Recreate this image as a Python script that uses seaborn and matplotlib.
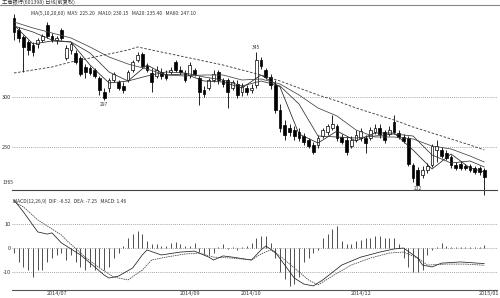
import numpy as np
import pandas as pd
import matplotlib
matplotlib.use("Agg")
import matplotlib.pyplot as plt
from matplotlib.lines import Line2D
import seaborn as sns

sns.set_style("white")
plt.rcParams['font.family'] = ['Noto Sans CJK SC', 'DejaVu Sans']

# ---------------- data ----------------
open_ = [379, 367, 360, 355, 352, 353, 357, 372, 361, 357,
         367, 339, 347, 344, 339, 330, 329, 327, 319, 305,
         309, 317, 315, 311, 317, 327, 337, 343, 331, 324,
         321, 325, 323, 325, 335, 327, 324, 322, 327, 319,
         307, 309, 317, 325, 317, 317, 309, 313, 305, 309,
         307, 312, 337, 327, 320, 312, 287, 272, 269, 267,
         265, 261, 257, 252, 252, 261, 265, 269, 271, 260,
         257, 251, 257, 259, 259, 259, 265, 269, 265, 263,
         275, 264, 260, 259, 232, 227, 222, 227, 232, 247,
         247, 244, 240, 232, 233, 231, 231, 229, 229, 227]
close = [365, 359, 350, 347, 345, 357, 361, 361, 357, 359,
         359, 349, 353, 335, 323, 325, 324, 321, 307, 299,
         317, 323, 309, 307, 325, 335, 342, 331, 327, 315,
         327, 321, 319, 327, 327, 325, 317, 332, 323, 305,
         303, 317, 323, 317, 313, 305, 315, 302, 311, 305,
         309, 337, 331, 320, 312, 287, 269, 262, 265, 261,
         259, 255, 251, 245, 259, 267, 271, 273, 259, 255,
         245, 257, 262, 266, 254, 267, 269, 263, 257, 267,
         265, 260, 256, 233, 219, 212, 227, 231, 251, 251,
         241, 239, 232, 229, 229, 229, 227, 225, 225, 220]
high = [383, 370, 362, 357, 355, 359, 363, 375, 364, 361,
        369, 352, 355, 347, 341, 333, 331, 329, 321, 309,
        319, 325, 317, 315, 327, 337, 345, 345, 334, 329,
        331, 329, 327, 330, 337, 331, 327, 335, 329, 321,
        311, 319, 327, 327, 319, 319, 317, 317, 314, 312,
        313, 345, 340, 329, 323, 317, 293, 277, 273, 271,
        269, 264, 259, 255, 262, 269, 273, 282, 273, 263,
        261, 261, 267, 269, 262, 270, 273, 273, 267, 271,
        282, 267, 263, 261, 234, 230, 231, 234, 253, 257,
        250, 247, 242, 235, 236, 233, 233, 231, 231, 229]
low = [357, 355, 325, 342, 341, 349, 355, 359, 355, 353,
       357, 337, 343, 333, 321, 319, 322, 319, 302, 297,
       305, 315, 307, 304, 315, 325, 335, 329, 325, 305,
       319, 318, 317, 323, 325, 323, 315, 319, 321, 292,
       300, 307, 315, 313, 310, 289, 307, 299, 301, 302,
       304, 309, 328, 318, 308, 284, 265, 257, 261, 257,
       256, 252, 249, 243, 249, 259, 262, 267, 256, 253,
       242, 249, 255, 256, 244, 257, 263, 259, 254, 261,
       263, 258, 254, 231, 215, 212, 219, 224, 230, 235,
       239, 237, 229, 227, 227, 227, 225, 223, 222, 202]

ma_idx = [0, 4, 8, 12, 16, 20, 24, 28, 32, 36, 40, 44, 48, 52,
          56, 60, 64, 68, 72, 76, 80, 84, 88, 92, 96, 99]
ma5 = [372, 353, 356, 355, 332, 314, 316, 332, 322, 323, 316, 315, 309,
       322, 310, 263, 254, 266, 256, 264, 264, 247, 228, 243, 229, 225]
ma10 = [371, 365, 357, 355, 344, 325, 316, 321, 325, 324, 320, 317, 311,
        316, 311, 293, 261, 260, 259, 261, 263, 261, 242, 234, 236, 230]
ma20 = [375, 369, 364, 359, 350, 340, 333, 328, 322, 321, 322, 322, 317,
        318, 313, 302, 289, 281, 267, 260, 260, 258, 251, 248, 241, 235]
ma60_idx = [0, 4, 8, 12, 16, 20, 24, 26, 28, 32, 36, 40, 44, 48, 52, 56,
            60, 64, 68, 72, 76, 80, 84, 88, 92, 96, 99]
ma60 = [324, 327, 330, 335, 339, 343, 347, 350, 348, 344, 340, 336, 332,
        327, 322, 316, 309, 302, 296, 289, 283, 277, 270, 264, 258, 252, 247]

dif_idx = [0, 2, 5, 7, 8, 10, 14, 17, 19, 20, 22, 25, 27, 28, 31, 35, 38,
           41, 42, 44, 46, 50, 52, 53, 55, 57, 59, 61, 63, 65, 69, 73, 77,
           80, 82, 85, 86, 88, 90, 94, 99]
dif = [20, 15, 6.7, 5.8, 6.3, 2.1, -2.9, -7.9, -11.3, -12.5, -11.7, -8.3,
       -2.9, -0.8, -2.9, -1.7, -1.3, -3.8, -5, -3.3, -3.8, -5, -0.8, 0.8,
       -1.7, -7.1, -12.5, -15, -15.8, -13.3, -7.1, -3.8, -1.7, -0.4, 0,
       -4.2, -7.1, -7.9, -6.3, -5.8, -6.5]
dea_idx = [0, 2, 5, 10, 11, 15, 18, 21, 24, 27, 29, 32, 36, 39, 42, 46, 50,
           52, 54, 56, 59, 62, 64, 67, 71, 75, 79, 82, 85, 87, 91, 95, 99]
dea = [19.2, 17.1, 11.7, 5.4, 3.3, -3.8, -8.3, -12.1, -13.3, -9.2, -5,
       -3.8, -2.5, -2.1, -3.8, -4.2, -5, -2.5, -0.8, -3.3, -8.3, -13.3,
       -15.4, -11.7, -7.1, -4.2, -2.1, -1.7, -4.2, -7.1, -6.7, -6.7, -7.2]
macd_hist = [-2, -6, -8, -9, -12, -9, -9, -6, -4, -3,
             -2, -5, -3, -6, -8, -9, -8, -9, -8, -9,
             -8, -4, -2, 1, 4, 6, 7, 6, 3, 1.5,
             1.5, 0.8, 1, 2, 2.5, 1.5, 0.8, 1, 2, -1.5,
             -2.5, -3, -2, 0.5, 1.5, -0.5, 0.5, -1, 0.5, 0.8,
             2, 4, 5, 5, 2, -4, -10, -13, -16, -15,
             -12, -6, -4, -2, -1, 4, 6, 8, 9, 3,
             1.5, 1.5, 3, 3.5, 4, 4, 5, 5, 4, 4,
             4, 1.5, -4, -8, -10, -10, -9, -3, -1, 0.5,
             2, 1, 0.3, 0.3, 0.5, 0.3, 0.3, 0.3, 0.5, 1.46]

tick_pos = [9, 37, 50, 73, 100]
tick_labels = ["2014/07", "2014/09", "2014/10", "2014/12", "2015/01"]
price_ticks = [250, 300]
macd_ticks = [-10, 0, 10]

# ---------------- figure ----------------
fig = plt.figure(figsize=(5, 2.98), dpi=100)
fig.patch.set_facecolor("white")
ax = fig.add_axes([0.024, 0.3624, 0.970, 0.6108])
axm = fig.add_axes([0.024, 0.0268, 0.970, 0.3121])

n = len(close)
idx = np.arange(n)
xlim = (-0.42, 101.68)

# candles
o = np.array(open_, float); c = np.array(close, float)
h = np.array(high, float); l = np.array(low, float)
up = c >= o
ax.vlines(idx, l, h, color="black", lw=0.6, zorder=2, clip_on=False)
ax.bar(idx[up], (c - o)[up], bottom=o[up], width=0.62, color="white",
       edgecolor="black", linewidth=0.5, zorder=3)
ax.bar(idx[~up], (o - c)[~up], bottom=c[~up], width=0.62, color="black",
       edgecolor="black", linewidth=0.5, zorder=3)

ma_df = pd.DataFrame({"i": ma_idx, "MA5": ma5, "MA10": ma10, "MA20": ma20})
sns.lineplot(data=ma_df, x="i", y="MA5", ax=ax, color="#222222", lw=0.55, zorder=4)
sns.lineplot(data=ma_df, x="i", y="MA10", ax=ax, color="#333333", lw=0.55, zorder=4)
sns.lineplot(data=ma_df, x="i", y="MA20", ax=ax, color="#444444", lw=0.55, zorder=4)
ma60_df = pd.DataFrame({"i": ma60_idx, "MA60": ma60})
sns.lineplot(data=ma60_df, x="i", y="MA60", ax=ax, color="#333333", lw=0.6,
             zorder=4, linestyle=(0, (3, 2)))

ax.set_xlim(*xlim)
ax.set_ylim(207, 389)
ax.set_yticks(price_ticks)
ax.set_yticklabels([str(v) for v in price_ticks])
ax.set_xticks([])
ax.set_xlabel(""); ax.set_ylabel("")
ax.tick_params(axis="y", length=0, pad=1, labelsize=4, colors="#333333")
ax.yaxis.grid(True, ls=(0, (1, 1.5)), color="#888888", lw=0.6)
for s in ["top", "left", "right"]:
    ax.spines[s].set_visible(False)
ax.spines["bottom"].set_color("#444444"); ax.spines["bottom"].set_linewidth(0.8)

# markers for extremes
ax.text(19, 297 - 2, "297", fontsize=3.5, ha="center", va="top", color="#333333")
ax.text(51, 345 + 2, "345", fontsize=3.5, ha="center", va="bottom", color="#333333")
ax.text(85, 212 - 1, "212", fontsize=3.5, ha="center", va="top", color="#333333")

ax.text(3.5, 386, "MA(5,10,20,60)  MA5: 225.20   MA10: 230.15   MA20: 235.40   MA60: 247.10",
        fontsize=3.6, va="top", ha="left", color="#333333")

# MACD panel
axm.vlines(idx, 0, macd_hist, color="#333333", lw=0.6)
dif_df = pd.DataFrame({"i": dif_idx, "DIF": dif})
dea_df = pd.DataFrame({"i": dea_idx, "DEA": dea})
sns.lineplot(data=dif_df, x="i", y="DIF", ax=axm, color="#222222", lw=0.55)
sns.lineplot(data=dea_df, x="i", y="DEA", ax=axm, color="#444444", lw=0.55,
             linestyle=(0, (2, 1)))
axm.set_xlim(*xlim)
axm.set_ylim(-17.5, 21.25)
axm.set_yticks(macd_ticks)
axm.set_yticklabels([str(v) for v in macd_ticks])
axm.set_xticks(tick_pos)
axm.set_xticklabels(tick_labels)
axm.set_xlabel(""); axm.set_ylabel("")
axm.tick_params(axis="both", length=0, pad=1, labelsize=4, colors="#333333")
axm.yaxis.grid(True, ls=(0, (1, 1.5)), color="#888888", lw=0.6)
for s in ["top", "left", "right"]:
    axm.spines[s].set_visible(False)
axm.spines["bottom"].set_color("#555555"); axm.spines["bottom"].set_linewidth(0.8)
axm.text(-0.3, 20.8, "MACD(12,26,9)  DIF: -6.52   DEA: -7.25   MACD: 1.46",
         fontsize=3.6, va="top", ha="left", color="#333333")

# header and separators
fig.add_artist(Line2D([0, 1], [1 - 5 / 298, 1 - 5 / 298], color="#888888", lw=0.8))
fig.text(0.004, 1 - 0.5 / 298, "工商银行(601398) 日线(前复权)", fontsize=3.8,
         va="top", ha="left", color="#333333")
fig.text(0.006, 1 - 185 / 298, "1365", fontsize=3.6, va="bottom", ha="left",
         color="#333333")

fig.savefig("out.png", dpi=100, facecolor="white")
